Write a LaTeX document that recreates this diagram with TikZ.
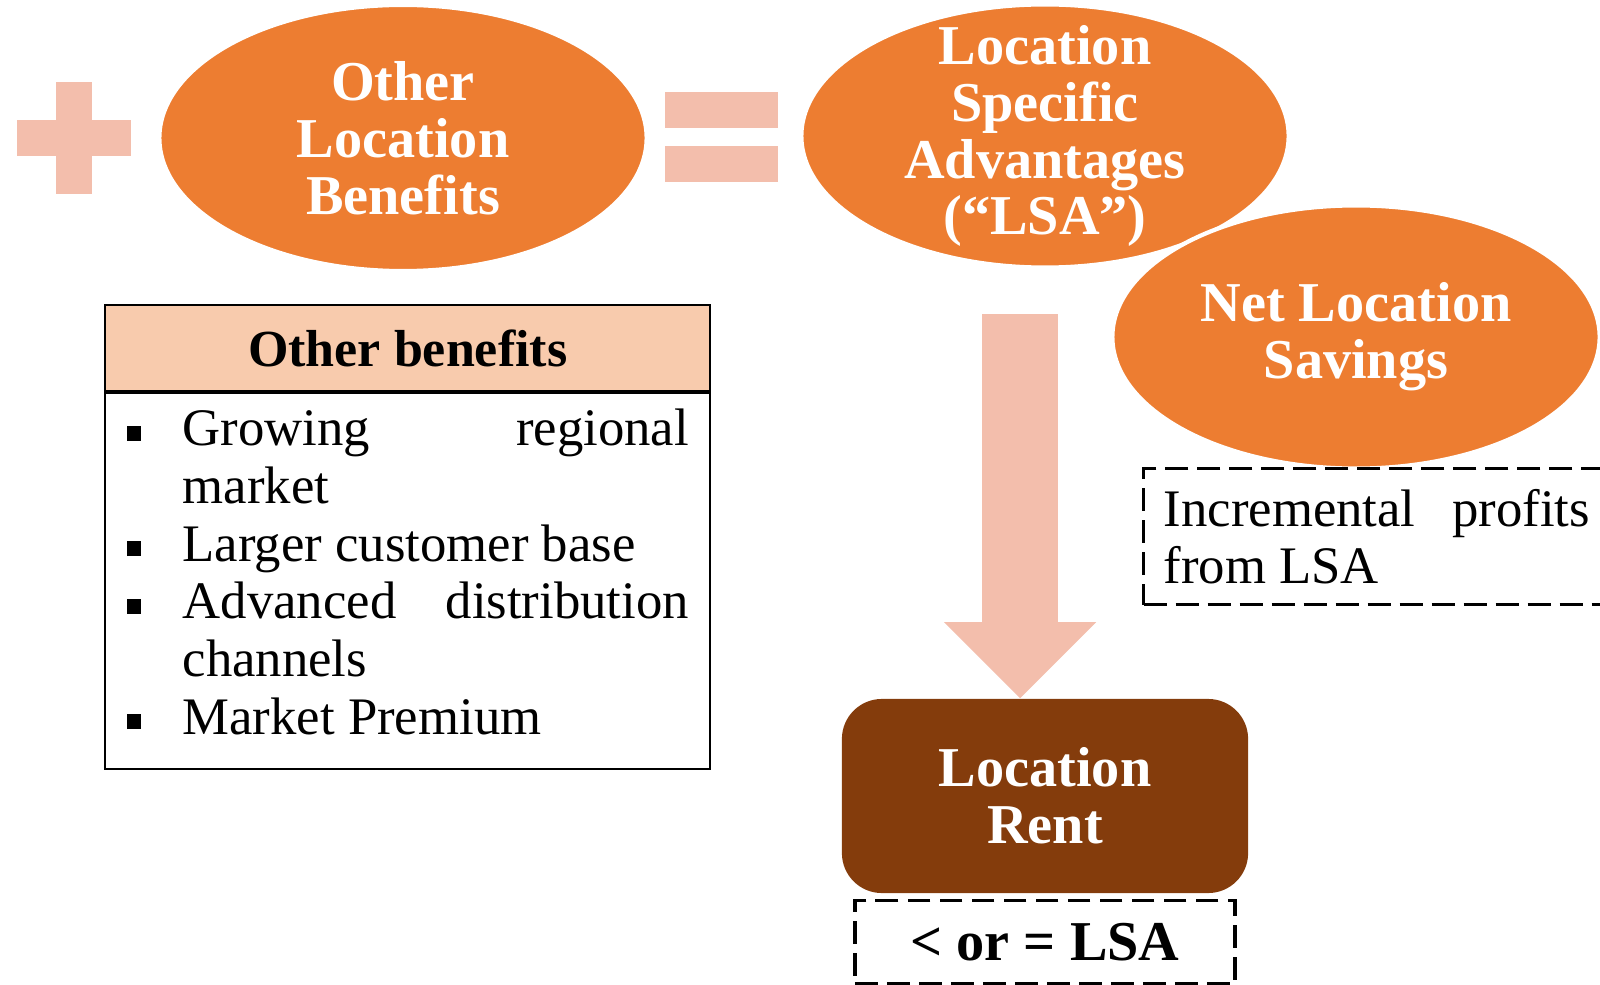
\documentclass[tikz,border=0pt]{standalone}
\usepackage{fontspec}
\setmainfont{Liberation Serif}
\usepackage{tikz}
\usetikzlibrary{shapes.geometric, arrows.meta, positioning}

\definecolor{lsaorange}{HTML}{ED7D31}
\definecolor{rentbrown}{HTML}{843C0C}
\definecolor{headpeach}{HTML}{F8CBAD}
\definecolor{signpeach}{HTML}{F3BEAC}
\newcommand{\benefitlabel}[1]{#1\hfil}

\begin{document}
\begin{tikzpicture}[x=0.01cm, y=-0.01cm,
    bubble/.style={ellipse, fill=lsaorange, draw=white, line width=1.2pt, text=white,
        font=\bfseries\fontsize{16}{16.2}\selectfont, align=center,
        minimum width=4.87cm, minimum height=2.63cm, inner sep=0pt},
    dashbox/.style={draw, line width=0.95pt, dash pattern=on 6.5pt off 2.6pt},
    bigarrow/.style={signpeach, line width=0.75cm,
        -{Triangle[length=0.76cm, width=1.52cm, line width=0pt]}}]
    \clip (0,0) rectangle (1600,985);
    \fill [signpeach] (17,120) rectangle (131,156);
    \fill [signpeach] (56,82) rectangle (92,194);
    \fill [signpeach] (665,92) rectangle (778,128);
    \fill [signpeach] (665,146) rectangle (778,182);
    \node [bubble, minimum height=2.66cm] (olb) at (403,138) {Other\\Location\\Benefits};
    \node [bubble, inner ysep=-0.3cm] (lsa) at (1045,136) {Location\\Specific\\Advantages\\(“LSA”)};
    \node [bubble] (nls) at (1356,337) {Net Location\\Savings};
    \node [draw, line width=0.6pt, fill=headpeach, anchor=north west, minimum width=6.05cm,
        minimum height=0.86cm, inner sep=0pt, font=\bfseries\fontsize{14.8}{16.4}\selectfont]
        (benhead) at (104,304) {Other benefits};
    \node [draw, line width=0.6pt, below=0pt of benhead, minimum width=6.05cm, minimum height=3.76cm,
        inner sep=0pt, text width=5.62cm, align=justify, font=\fontsize{15}{16.4}\selectfont]
        (benlist) {\vspace*{-0.4cm}\tolerance=10000 \hyphenpenalty=10000
        \begin{list}{\rule[1.4pt]{4.2pt}{4.2pt}}{\setlength\leftmargin{0.56cm}\setlength\labelwidth{0.56cm}%
            \setlength\labelsep{0pt}\setlength\topsep{0pt}\setlength\partopsep{0pt}%
            \setlength\itemsep{0pt}\setlength\parsep{0pt}\let\makelabel\benefitlabel}
        \item Growing regional market
        \item Larger customer base
        \item Advanced distribution channels
        \item Market Premium
        \end{list}};
    \node [dashbox, anchor=north west, minimum height=1.36cm, text width=4.26cm, inner xsep=0.2cm,
        align=justify, font=\fontsize{15}{16.4}\selectfont]
        (incr) at (1142,467) {\tolerance=10000 Incremental profits from LSA};
    \node [fill=rentbrown, rounded corners=0.4cm, minimum width=4.06cm, minimum height=1.94cm,
        text=white, align=center, font=\bfseries\fontsize{16}{16.2}\selectfont]
        (rent) at (1045,796) {Location\\Rent};
    \node [dashbox, minimum width=3.8cm, minimum height=0.83cm, inner sep=0pt,
        font=\bfseries\fontsize{16}{16.2}\selectfont] (cond) at (1045,942) {< or = LSA};
    \coordinate (arrowtop) at (1020,314);
    \draw [bigarrow] (arrowtop) -- (arrowtop |- rent.north);
\end{tikzpicture}
\end{document}
